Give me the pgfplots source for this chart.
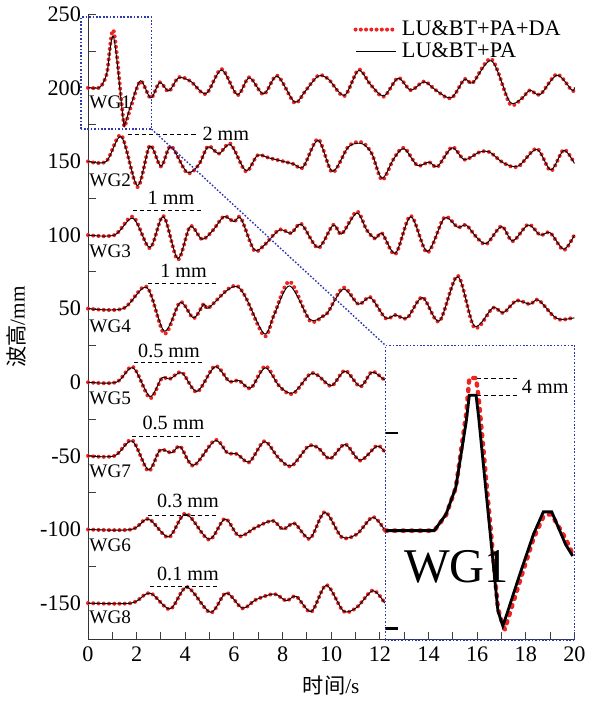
\documentclass[border=0pt]{standalone}
\usepackage{fontspec}
\setmainfont{Liberation Serif}
\newfontfamily\cjk{Noto Sans CJK SC}
\usepackage{pgfplots}
\usepackage{pgfplotstable}
\pgfplotsset{compat=1.18}
\definecolor{dared}{RGB}{238,36,36}
\definecolor{boxblue}{RGB}{45,55,175}

% t = time (s), pa = LU&BT+PA, da = LU&BT+PA+DA
\pgfplotstableread{
t pa da
0 200 200
0.46 200 200
0.64 204.2 204.0
0.79 211.1 211.0
1.05 234.7 239.0
1.44 179.4 180.0
1.52 175.6 174.6
1.77 188.8 187.5
2.16 204.8 204.5
2.58 193.2 193.0
2.95 203.6 203.8
3.32 197.9 197.5
3.73 206.8 207.2
4.23 204.3 204.3
4.85 196.1 195.8
5.49 212.1 212.8
6.14 195.4 195.0
6.63 206.8 207.2
7.22 195.9 195.5
7.78 207.9 208.3
8.49 190.4 189.8
8.91 197.3 197.3
9.46 207.9 208.3
9.88 205.9 206.0
10.54 194.9 194.4
11.12 211.8 212.4
11.61 202.3 202.3
12.16 194.5 194.0
12.75 206.4 206.8
13.27 198.4 198.4
13.82 204.1 204.4
14.30 198.4 198.4
14.93 193.2 192.8
15.48 205.7 206.0
15.82 203.4 203.4
16.59 218.4 219.6
17.34 190.6 189.2
17.83 192.7 192.7
18.17 198.4 198.4
18.59 195.4 195.4
19.28 208.6 209.2
19.90 198.4 198.0
20.00 200.3 200.3
}\wgone

\pgfplotstableread{
t pa da
0 150 150
0.75 150 150
1.37 166.7 167.8
2.03 133.6 132.5
2.54 160.3 160.8
3.00 146.8 146.5
3.41 159.9 160.4
4.07 142.7 142.2
4.55 147.7 147.7
4.94 159.9 160.4
5.38 155.3 155.3
5.86 161.4 162.0
6.49 143.8 143.2
6.97 154.1 154.1
7.46 152.3 152.3
8.42 148.4 148.4
8.84 146.2 145.8
9.46 164.4 165.2
10.05 143.3 142.6
10.71 159.9 160.3
11.26 162.1 163.0
11.67 155.3 155.3
12.09 138.6 137.4
12.57 151.8 151.8
12.99 158.7 159.3
13.54 147.3 147.3
14.02 149.6 149.6
14.37 146.6 146.3
14.97 159.2 159.8
15.48 151.2 151.2
16.10 156.4 156.4
16.51 156.4 156.4
17.07 149.1 149.1
17.68 146.8 146.4
18.45 158.2 158.8
19.03 144.3 143.6
19.56 157.5 158.0
20.00 148.6 148.6
}\wgtwo

\pgfplotstableread{
t pa da
0 100 100
1.09 100 100
1.85 111.4 112.5
2.54 91.6 91.0
3.10 112.5 113.0
3.69 84.0 83.2
4.20 105.7 106.0
4.69 97.1 97.1
5.15 103.5 103.5
5.59 112.5 112.8
6.00 109.1 109.1
6.28 111.4 111.8
6.83 90.2 89.5
7.25 93.2 93.2
7.87 103.4 103.8
8.35 101.2 101.2
8.77 107.3 107.6
9.46 91.6 91.2
10.08 106.8 107.0
10.43 100.7 100.7
11.05 114.9 116.0
11.46 103.4 103.4
11.81 97.7 97.5
12.09 101.2 101.2
12.64 87.7 87.0
13.27 112.5 113.2
13.95 88.8 88.0
14.65 111.4 112.0
15.20 105.3 105.3
15.55 106.8 106.8
15.96 98.8 98.8
16.38 94.3 93.8
17.00 105.7 106.0
17.46 96.1 95.8
18.10 106.8 107.2
18.59 100.0 100.0
19.00 101.6 101.6
19.56 90.4 89.8
20.00 100.0 100.3
}\wgthree

\pgfplotstableread{
t pa da
0 50 50
1.44 50 50
2.41 64.4 64.9
3.14 34.7 32.9
3.79 54.1 54.5
4.34 43.8 43.5
4.76 53.0 53.3
4.94 50.3 50.3
5.73 62.6 63.0
6.14 64.9 65.4
6.49 57.5 57.5
7.25 32.9 31.3
7.66 46.2 46.2
8.29 65.5 68.5
9.12 42.7 41.8
9.67 45.0 45.0
9.88 47.9 47.9
10.50 63.3 64.4
11.12 53.0 53.0
11.61 57.5 57.8
12.23 43.8 43.5
12.64 45.7 45.7
13.12 43.8 43.5
13.75 57.5 57.8
14.44 41.6 41.2
15.20 71.7 72.4
15.89 38.2 37.0
16.65 50.7 50.7
17.07 47.3 47.0
17.62 55.3 55.6
18.17 53.0 53.0
18.52 55.8 56.0
19.28 43.4 43.0
20.00 43.8 44.2
}\wgfour

\pgfplotstableread{
t pa da
0 0 0
1.16 0 0
1.85 9.8 10.5
2.54 -9.6 -10.8
3.03 2.9 2.6
3.37 2.3 2.3
3.86 6.4 6.8
4.48 -6.2 -6.6
5.22 10.5 11.1
5.80 0.7 0.7
6.21 1.2 1.2
6.69 -3.9 -4.2
7.29 9.8 11.0
7.87 -2.7 -2.7
8.42 -7.3 -8.0
9.12 5.3 5.6
9.46 4.6 4.6
10.01 -2.3 -2.6
10.57 7.5 8.0
11.19 -2.7 -3.0
11.67 6.8 7.2
12.09 2.9 2.9
12.20 1.5 1.5
}\wgfive

\pgfplotstableread{
t pa da
0 -50 -50
1.09 -50 -50
1.81 -39.9 -39.2
2.48 -59.4 -60.3
2.96 -46.1 -46.1
3.44 -47.9 -47.9
3.79 -43.8 -43.5
4.34 -56.4 -56.8
5.22 -39.7 -39.2
5.73 -47.9 -47.9
6.14 -48.8 -48.8
6.63 -54.1 -54.4
7.25 -40.4 -40.0
7.80 -50.7 -50.7
8.35 -56.8 -57.2
9.05 -43.8 -43.5
9.46 -44.5 -44.5
9.95 -51.8 -52.0
10.57 -42.3 -42.0
11.19 -52.9 -53.2
11.88 -43.4 -43.0
12.20 -47.5 -47.5
}\wgseven

\pgfplotstableread{
t pa da
0 -100 -100
1.78 -100 -100
2.48 -92.9 -92.6
3.31 -105.0 -105.4
4.02 -89.5 -89.0
4.97 -106.6 -107.0
5.63 -92.9 -92.6
6.21 -104.3 -104.6
6.90 -98.6 -98.6
7.59 -94.0 -94.0
8.01 -99.8 -99.8
8.49 -95.9 -95.9
9.12 -106.0 -106.4
9.74 -88.4 -88.0
10.43 -105.0 -105.3
11.05 -103.2 -103.2
11.71 -91.8 -91.5
12.20 -100.5 -100.5
}\wgsix

\pgfplotstableread{
t pa da
0 -150 -150
1.78 -150 -150
2.54 -143.2 -143.0
3.37 -153.9 -154.2
4.07 -139.2 -139.0
5.03 -156.2 -156.5
5.68 -143.2 -143.0
6.35 -153.4 -153.6
6.90 -147.7 -147.7
7.66 -143.8 -143.8
8.15 -148.4 -148.4
8.56 -145.4 -145.4
9.18 -155.7 -156.0
9.80 -137.9 -137.6
10.50 -155.3 -155.6
11.05 -152.9 -152.9
11.71 -141.6 -141.3
12.20 -150 -150
}\wgeight

% zoomed WG1 (inset)
\pgfplotstableread{
t pa da
-0.29 200 200
0.46 200 200
0.64 204.2 204.0
0.79 211.1 211.0
0.95 228.0 230.0
0.997 234.7 239.1
1.10 234.7 239.1
1.14 229.0 234.0
1.435 179.4 180.0
1.51 175.6 176.0
1.54 177.0 174.7
1.77 188.8 187.0
1.98 199.1 198.0
2.13 204.8 203.5
2.23 204.8 204.2
2.26 204.8 204.0
2.47 196.5 198.0
2.58 193.5 194.0
}\wgzoom

\pgfplotsset{
  dastyle/.style={dared, line width=2pt, line cap=round, dash pattern=on 0pt off 2.6pt, smooth, tension=0.5},
  pastyle/.style={black, line width=0.45pt, smooth, tension=0.5},
}

\begin{document}
\begin{tikzpicture}
\begin{axis}[
  name=main,
  scale only axis, width=241pt, height=310pt,
  xmin=0, xmax=20, ymin=-175, ymax=250,
  axis x line*=bottom, axis y line*=left,
  axis line style={black!80, line width=0.5pt},
  xtick={0,2,...,20}, minor xtick={1,3,...,19},
  ytick={-150,-100,...,250}, minor ytick={-125,-75,...,225},
  tick align=inside, major tick length=4pt, minor tick length=4pt,
  tick style={black!75, line width=0.5pt},
  /pgf/number format/assume math mode=true,
  ticklabel style={font=\fontsize{11}{11}\selectfont},
  xlabel={{\cjk 时间}/s}, ylabel={{\cjk 波高}/mm},
  label style={font=\fontsize{10.5}{11}\selectfont},
  clip=false,
  legend style={draw=none, fill=none, at={(0.985,1.0)}, anchor=north east,
    font=\fontsize{11}{12}\selectfont, row sep=-2pt, inner sep=1pt},
  legend cell align=left,
  legend image code/.code={\draw[#1, smooth=false] (0pt,0pt) -- (20pt,0pt);},
]
\addplot[dastyle] table[x=t, y=da] {\wgone};
\addlegendentry{LU\&BT+PA+DA}
\addplot[pastyle] table[x=t, y=pa] {\wgone};
\addlegendentry{LU\&BT+PA}

\addplot[dastyle, forget plot] table[x=t, y=da] {\wgtwo};
\addplot[pastyle, forget plot] table[x=t, y=pa] {\wgtwo};
\addplot[dastyle, forget plot] table[x=t, y=da] {\wgthree};
\addplot[pastyle, forget plot] table[x=t, y=pa] {\wgthree};
\addplot[dastyle, forget plot] table[x=t, y=da] {\wgfour};
\addplot[pastyle, forget plot] table[x=t, y=pa] {\wgfour};
\addplot[dastyle, forget plot] table[x=t, y=da] {\wgfive};
\addplot[pastyle, forget plot] table[x=t, y=pa] {\wgfive};
\addplot[dastyle, forget plot] table[x=t, y=da] {\wgseven};
\addplot[pastyle, forget plot] table[x=t, y=pa] {\wgseven};
\addplot[dastyle, forget plot] table[x=t, y=da] {\wgsix};
\addplot[pastyle, forget plot] table[x=t, y=pa] {\wgsix};
\addplot[dastyle, forget plot] table[x=t, y=da] {\wgeight};
\addplot[pastyle, forget plot] table[x=t, y=pa] {\wgeight};

% wave gauge names
\begin{scope}[every node/.style={anchor=west, inner sep=0.5pt, font=\fontsize{9.5}{10}\selectfont}]
\node at (axis cs:0,190.4) {WG1};
\node at (axis cs:0,137) {WG2};
\node at (axis cs:0,89) {WG3};
\node at (axis cs:0,38.2) {WG4};
\node at (axis cs:0,-11.2) {WG5};
\node at (axis cs:0,-60.5) {WG7};
\node at (axis cs:0,-110.5) {WG6};
\node at (axis cs:0,-159.8) {WG8};
\end{scope}

% difference marks
\begin{scope}[every node/.style={inner sep=0.5pt, font=\fontsize{10}{10}\selectfont}]
\draw[dash pattern=on 2pt off 1.5pt, line width=0.4pt] (axis cs:1.64,168.5) -- (axis cs:4.48,168.5);
\node[anchor=west] at (axis cs:4.65,168.5) {2 mm};
\draw[dash pattern=on 2pt off 1.5pt, line width=0.4pt] (axis cs:1.85,116.4) -- (axis cs:4.69,116.4);
\node at (axis cs:3.41,125.1) {1 mm};
\draw[dash pattern=on 2pt off 1.5pt, line width=0.4pt] (axis cs:2.48,67.4) -- (axis cs:5.38,67.4);
\node at (axis cs:3.93,75.8) {1 mm};
\draw[dash pattern=on 2pt off 1.5pt, line width=0.4pt] (axis cs:1.90,13.7) -- (axis cs:4.76,13.7);
\node at (axis cs:3.33,21.2) {0.5 mm};
\draw[dash pattern=on 2pt off 1.5pt, line width=0.4pt] (axis cs:1.81,-36.5) -- (axis cs:4.66,-36.5);
\node at (axis cs:3.51,-27.4) {0.5 mm};
\draw[dash pattern=on 2pt off 1.5pt, line width=0.4pt] (axis cs:2.48,-90.6) -- (axis cs:5.35,-90.6);
\node at (axis cs:4.11,-80.8) {0.3 mm};
\draw[dash pattern=on 2pt off 1.5pt, line width=0.4pt] (axis cs:2.54,-138.6) -- (axis cs:5.38,-138.6);
\node at (axis cs:4.11,-130.1) {0.1 mm};
\end{scope}

% zoom window
\draw[boxblue, line width=0.7pt, dash pattern=on 0.8pt off 0.9pt]
  (axis cs:-0.29,172) rectangle (axis cs:2.61,248);
\coordinate (bc) at (axis cs:2.61,172);
\end{axis}

\begin{axis}[
  name=inset, at={(147.3pt,0pt)}, anchor=south west,
  scale only axis, width=93.8pt, height=146pt,
  xmin=-0.29, xmax=2.61, ymin=172, ymax=247.5,
  xtick=\empty, ytick={175,225}, yticklabels={},
  ytick pos=left, tick align=inside, major tick length=6.5pt,
  ytick style={black, line width=1.3pt},
  axis line style={boxblue, line width=0.7pt, dash pattern=on 0.8pt off 0.9pt},
  clip=false,
]
\addplot[dared, line width=2.2pt, line cap=round, dash pattern=on 1pt off 3.2pt] table[x=t, y=da] {\wgzoom};
\addplot[black, line width=1.4pt] table[x=t, y=pa] {\wgzoom};
\draw[dash pattern=on 2pt off 1.5pt, line width=0.4pt] (axis cs:1.12,239.1) -- (axis cs:1.75,239.1);
\draw[dash pattern=on 2pt off 1.5pt, line width=0.4pt] (axis cs:1.12,234.7) -- (axis cs:1.75,234.7);
\node[font=\fontsize{10}{10}\selectfont, inner sep=0.5pt] at (axis cs:2.16,236.9) {4 mm};
\node[font=\fontsize{24}{24}\selectfont, inner sep=0pt] at (axis cs:0.8,190.6) {WG1};
\end{axis}

\draw[boxblue, line width=0.7pt, dash pattern=on 0.8pt off 0.9pt] (bc) -- (inset.north west);
\end{tikzpicture}
\end{document}
